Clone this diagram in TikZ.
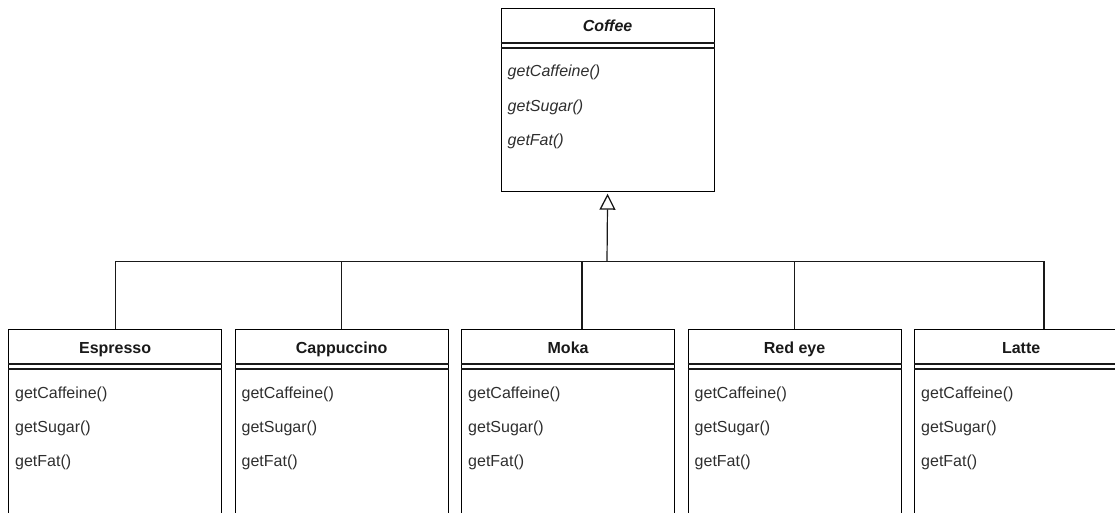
\documentclass[tikz,border=0pt]{standalone}
\usepackage{fontspec}
\setmainfont{Liberation Sans}
\usetikzlibrary{arrows.meta,calc}

\tikzset{
  classbox/.style={draw, line width=1.2pt, anchor=north west, inner sep=0pt,
    minimum width=213pt},
  classtitle/.style={inner sep=0pt, anchor=base, text=black!90,
    font=\fontsize{16pt}{19pt}\selectfont},
  method/.style={inner sep=0pt, anchor=base west, text=black!82,
    font=\fontsize{16pt}{19pt}\selectfont},
  wire/.style={line width=1.2pt, draw=black!90},
  inherit/.style={wire, shorten >=1.5pt,
    -{Triangle[open, length=16pt, width=16pt, line width=1.3pt]}}
}

% one UML class: name, x, y, height, title, title style, method style
\newcommand\umlclass[7]{%
  \node[classbox, minimum height=#4pt] (#1) at (#2,#3) {};
  \draw[wire] ([yshift=-35pt]#1.north west) -- ([yshift=-35pt]#1.north east);
  \draw[wire] ([yshift=-40pt]#1.north west) -- ([yshift=-40pt]#1.north east);
  \node[classtitle] (#1-t) at ([yshift=-24pt]#1.north) {#6#5};
  \node[method] (#1-a) at ([xshift=7pt,yshift=-69pt]#1.north west) {#7getCaffeine()};
  \node[method] (#1-b) at ([xshift=7pt,yshift=-103.5pt]#1.north west) {#7getSugar()};
  \node[method] (#1-c) at ([xshift=7pt,yshift=-137.5pt]#1.north west) {#7getFat()};
}

\begin{document}
\begin{tikzpicture}[x=1pt, y=-1pt]
  \useasboundingbox (0,0) rectangle (1115,513);
  \clip (0,0) rectangle (1115,513);

  % abstract base class
  \umlclass{coffee}{500.5}{8}{183}{Coffee}{\bfseries\itshape}{\itshape}

  % concrete subclasses
  \umlclass{espresso}{8}{329}{200}{Espresso}{\bfseries}{}
  \umlclass{cappuccino}{234.5}{329}{200}{Cappuccino}{\bfseries}{}
  \umlclass{moka}{461}{329}{200}{Moka}{\bfseries}{}
  \umlclass{redeye}{687.5}{329}{200}{Red eye}{\bfseries}{}
  \umlclass{latte}{914}{329}{200}{Latte}{\bfseries}{}

  % generalization tree
  \coordinate (junc) at (607,261.5);
  \draw[inherit] (junc) -- (coffee.south);
  \draw[wire] (espresso.north) |- (junc);
  \draw[wire] (cappuccino.north) |- (junc);
  \draw[wire] ([xshift=121pt]moka.north west) |- (junc);
  \draw[wire] (redeye.north) |- (junc);
  \draw[wire] ([xshift=130pt]latte.north west) |- (junc);
\end{tikzpicture}
\end{document}
